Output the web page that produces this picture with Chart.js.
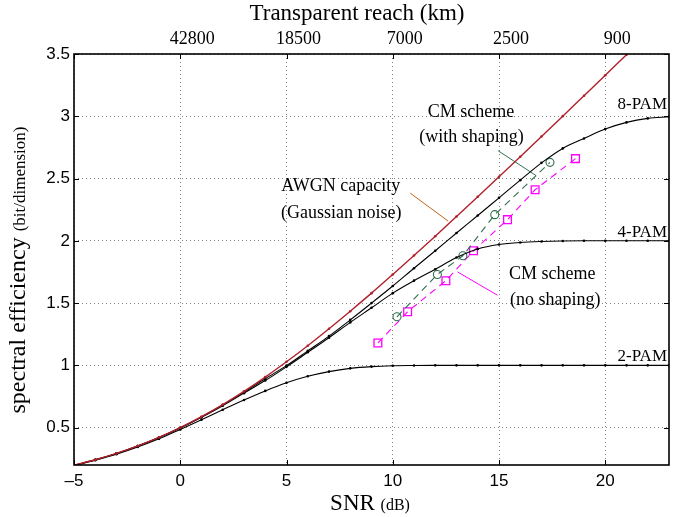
<!DOCTYPE html>
<html>
<head>
<meta charset="utf-8">
<script src="https://cdn.jsdelivr.net/npm/chart.js@4/dist/chart.umd.min.js"></script>
<style>
  html, body { margin: 0; padding: 0; background: #ffffff; }
  #wrap { width: 694px; height: 517px; position: relative; }
</style>
</head>
<body>
<div id="wrap"><canvas id="c" width="694" height="517"></canvas></div>
<script>
// ---------------- data ----------------
const snrDb = [-5,-4,-3,-2,-1,0,1,2,3,4,5,6,7,8,9,10,11,12,13,14,15,16,17,18,19,20,21,22,23];
const awgnCapacity = [0.198,0.242,0.293,0.353,0.422,0.500,0.588,0.685,0.791,0.906,1.029,1.158,1.294,1.435,1.580,1.730,1.882,2.037,2.195,2.354,2.514,2.675,2.838,3.001,3.165,3.329,3.494,3.659,3.824];
const pam8 = [0.198,0.242,0.293,0.353,0.421,0.499,0.586,0.681,0.784,0.893,0.998,1.116,1.235,1.365,1.500,1.637,1.780,1.920,2.063,2.203,2.345,2.487,2.626,2.742,2.822,2.897,2.951,2.983,2.996];
const pam4 = [0.198,0.241,0.292,0.352,0.420,0.497,0.583,0.676,0.777,0.878,0.988,1.105,1.222,1.345,1.462,1.580,1.680,1.772,1.866,1.935,1.970,1.987,1.995,1.999,2.000,2.000,2.000,2.000,2.000];
const pam2 = [0.195,0.238,0.286,0.344,0.410,0.486,0.564,0.644,0.722,0.795,0.860,0.912,0.950,0.976,0.990,0.997,0.999,1.000,1.000,1.000,1.000,1.000,1.000,1.000,1.000,1.000,1.000,1.000,1.000];

const cmShapedSnr = [10.2, 12.1, 13.3, 14.8, 17.4];
const cmShapedSE  = [1.39, 1.73, 1.88, 2.21, 2.63];
const cmUniformSnr = [9.3, 10.7, 12.5, 13.8, 15.4, 16.7, 18.6];
const cmUniformSE  = [1.18, 1.43, 1.68, 1.92, 2.17, 2.41, 2.66];

const xTickValues = [-5, 0, 5, 10, 15, 20];
const yTickValues = [0.5, 1, 1.5, 2, 2.5, 3, 3.5];
const reachTickValues = [0, 5, 10, 15, 20];
const reachTickLabels = ['42800', '18500', '7000', '2500', '900'];

// annotation pointer segments (data coords)
const awgnPointerX = [10.82, 12.61];
const awgnPointerY = [2.383, 2.158];
const shapedPointerX = [14.96, 16.75];
const shapedPointerY = [2.723, 2.523];
const uniformPointerX = [13.05, 14.93];
const uniformPointerY = [1.750, 1.563];

// text annotations (data coords of text centre)
const annotTexts = [
  { text: 'AWGN capacity',    x: 7.55, y: 2.44 },
  { text: '(Gaussian noise)', x: 7.58, y: 2.22 },
  { text: 'CM scheme',        x: 13.68, y: 3.03 },
  { text: '(with shaping)',   x: 13.71, y: 2.83 },
  { text: 'CM scheme',        x: 17.5, y: 1.735 },
  { text: '(no shaping)',     x: 17.65, y: 1.525 }
];
const pamLabels = [
  { text: '8-PAM', y: 3.098 },
  { text: '4-PAM', y: 2.064 },
  { text: '2-PAM', y: 1.072 }
];

// -------------- helpers --------------
const zip = (xs, ys) => xs.map((x, i) => ({ x: x, y: ys[i] }));
const SERIF = '"Liberation Serif", "Times New Roman", serif';
const SANS = '"Liberation Sans", Arial, sans-serif';

const curve = (label, ys, color, w) => ({
  label, data: zip(snrDb, ys), borderColor: color, backgroundColor: color,
  borderWidth: w, pointRadius: 1.3, pointHoverRadius: 1.3, pointBorderWidth: 0,
  pointBackgroundColor: color, cubicInterpolationMode: 'monotone'
});
const pointer = (label, xs, ys, color) => ({
  label, data: zip(xs, ys), borderColor: color, borderWidth: 1,
  pointRadius: 0, pointHoverRadius: 0
});

const framePlugin = {
  id: 'frame',
  afterDraw(chart) {
    const { ctx, chartArea: a, scales } = chart;
    const xs = scales.x, ys = scales.y;
    ctx.save();
    // frame
    ctx.strokeStyle = '#000'; ctx.lineWidth = 1.6;
    ctx.strokeRect(a.left, a.top, a.right - a.left, a.bottom - a.top);
    // inward ticks
    ctx.lineWidth = 1;
    ctx.beginPath();
    xTickValues.forEach(v => {
      const px = Math.round(xs.getPixelForValue(v)) + 0.5;
      ctx.moveTo(px, a.bottom); ctx.lineTo(px, a.bottom - 5);
      ctx.moveTo(px, a.top); ctx.lineTo(px, a.top + 5);
    });
    yTickValues.forEach(v => {
      const py = Math.round(ys.getPixelForValue(v)) + 0.5;
      ctx.moveTo(a.left, py); ctx.lineTo(a.left + 5, py);
      ctx.moveTo(a.right, py); ctx.lineTo(a.right - 5, py);
    });
    ctx.stroke();

    // annotation texts
    ctx.fillStyle = '#000';
    ctx.textAlign = 'center'; ctx.textBaseline = 'middle';
    ctx.font = '18px ' + SERIF;
    annotTexts.forEach(t => ctx.fillText(t.text, xs.getPixelForValue(t.x), ys.getPixelForValue(t.y)));
    ctx.textAlign = 'right';
    ctx.font = '17px ' + SERIF;
    pamLabels.forEach(t => ctx.fillText(t.text, a.right - 2, ys.getPixelForValue(t.y)));

    // top title
    ctx.textAlign = 'center'; ctx.textBaseline = 'alphabetic';
    ctx.font = '23px ' + SERIF;
    ctx.fillText('Transparent reach (km)', 357, 20);

    // mixed-size titles
    const drawMixed = (big, small, bigSize, smallSize, cx, baseY) => {
      ctx.font = bigSize + 'px ' + SERIF;
      const w1 = ctx.measureText(big).width;
      ctx.font = smallSize + 'px ' + SERIF;
      const w2 = ctx.measureText(small).width;
      let x0 = cx - (w1 + w2) / 2;
      ctx.textAlign = 'left';
      ctx.font = bigSize + 'px ' + SERIF;
      ctx.fillText(big, x0, baseY);
      ctx.font = smallSize + 'px ' + SERIF;
      ctx.fillText(small, x0 + w1, baseY);
    };
    drawMixed('SNR ', '(dB)', 23, 16, 370, 510);

    // y title rotated
    ctx.save();
    ctx.translate(25, 270);
    ctx.rotate(-Math.PI / 2);
    drawMixed('spectral efficiency ', '(bit/dimension)', 24, 17, 0, 0);
    ctx.restore();
    ctx.restore();
  }
};

const ctx = document.getElementById('c').getContext('2d');
new Chart(ctx, {
  type: 'line',
  data: {
    datasets: [
      curve('AWGN capacity', awgnCapacity, '#b0202a', 1.4),
      curve('8-PAM', pam8, '#000000', 1.1),
      curve('4-PAM', pam4, '#000000', 1.1),
      curve('2-PAM', pam2, '#000000', 1.1),
      {
        label: 'CM scheme (with shaping)', data: zip(cmShapedSnr, cmShapedSE),
        borderColor: '#2e6e4c', borderWidth: 1.1, borderDash: [7, 5],
        pointStyle: 'circle', pointRadius: 4, pointHoverRadius: 4,
        pointBorderColor: '#2e6e4c', pointBackgroundColor: 'rgba(0,0,0,0)', pointBorderWidth: 1.1
      },
      {
        label: 'CM scheme (no shaping)', data: zip(cmUniformSnr, cmUniformSE),
        borderColor: '#ff00ff', borderWidth: 1.1, borderDash: [7, 5],
        pointStyle: 'rect', pointRadius: 5.5, pointHoverRadius: 5.5,
        pointBorderColor: '#ff00ff', pointBackgroundColor: 'rgba(0,0,0,0)', pointBorderWidth: 1.3
      },
      pointer('awgn pointer', awgnPointerX, awgnPointerY, '#c0651a'),
      pointer('shaped pointer', shapedPointerX, shapedPointerY, '#2e6e4c'),
      pointer('uniform pointer', uniformPointerX, uniformPointerY, '#ff00ff')
    ]
  },
  options: {
    responsive: false,
    animation: false,
    devicePixelRatio: 1,
    layout: { padding: { left: 0, right: 25, top: 0, bottom: 0 } },
    plugins: { legend: { display: false }, tooltip: { enabled: false }, title: { display: false } },
    scales: {
      x: {
        type: 'linear', position: 'bottom', min: -5, max: 23,
        afterBuildTicks: s => { s.ticks = xTickValues.map(v => ({ value: v })); },
        afterFit: s => { s.height = 52; },
        ticks: {
          padding: 6, color: '#000', font: { family: SANS, size: 17 },
          callback: v => (v < 0 ? '\u2013' + Math.abs(v) : String(v)), maxRotation: 0
        },
        grid: { color: '#808080', lineWidth: 1, drawTicks: false },
        border: { display: false, dash: [1, 3] }
      },
      x2: {
        type: 'linear', position: 'top', min: -5, max: 23,
        afterBuildTicks: s => { s.ticks = reachTickValues.map(v => ({ value: v })); },
        afterFit: s => { s.height = 54; },
        ticks: {
          padding: 4, color: '#000', font: { family: SERIF, size: 18 }, labelOffset: 12,
          callback: v => reachTickLabels[reachTickValues.indexOf(v)], maxRotation: 0
        },
        grid: { display: false, drawTicks: false },
        border: { display: false }
      },
      y: {
        type: 'linear', position: 'left', min: 0.2, max: 3.5,
        afterBuildTicks: s => { s.ticks = yTickValues.map(v => ({ value: v })); },
        afterFit: s => { s.width = 74; },
        ticks: { padding: 4, color: '#000', font: { family: SANS, size: 17 }, callback: v => String(v) },
        grid: { color: '#808080', lineWidth: 1, drawTicks: false },
        border: { display: false, dash: [1, 3] }
      }
    }
  },
  plugins: [framePlugin]
});
</script>
</body>
</html>
